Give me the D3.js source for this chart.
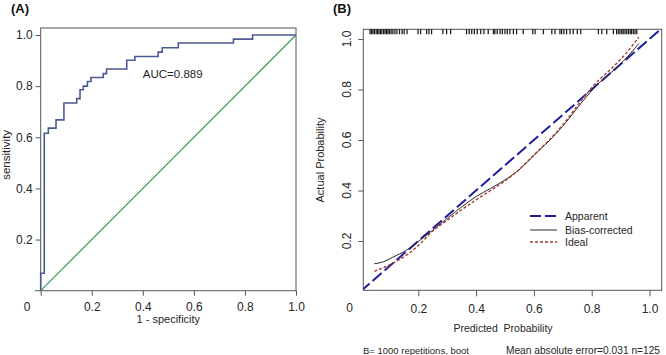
<!DOCTYPE html>
<html>
<head>
<meta charset="utf-8">
<script src="https://cdn.jsdelivr.net/npm/d3@7"></script>
<style>
  html, body { margin: 0; padding: 0; background: #fff; }
  svg { display: block; font-family: "Liberation Sans", Arial, sans-serif; }
</style>
</head>
<body>
<svg id="chart" width="666" height="355"></svg>
<script>
// ---------- DATA ----------
// Panel A: ROC curve (1-specificity, sensitivity) step points
const rocFpr  = [0, 0, 0.014, 0.014, 0.030, 0.030, 0.060, 0.060, 0.091, 0.091, 0.141, 0.141, 0.154, 0.154, 0.167, 0.167, 0.183, 0.183, 0.197, 0.197, 0.245, 0.245, 0.258, 0.258, 0.337, 0.337, 0.369, 0.369, 0.460, 0.460, 0.476, 0.476, 0.539, 0.539, 0.755, 0.755, 0.830, 0.830, 1.0];
const rocSens = [0, 0.068, 0.068, 0.616, 0.616, 0.636, 0.636, 0.668, 0.668, 0.734, 0.734, 0.751, 0.751, 0.786, 0.786, 0.800, 0.800, 0.818, 0.818, 0.834, 0.834, 0.849, 0.849, 0.867, 0.867, 0.901, 0.901, 0.916, 0.916, 0.933, 0.933, 0.950, 0.950, 0.969, 0.969, 0.984, 0.984, 1.0, 1.0];
const aucLabel = "AUC=0.889";
const ticksA = [0, 0.2, 0.4, 0.6, 0.8, 1.0];

// Panel B: calibration curves
const diagX = [0, 1.05];           // "Apparent" straight long-dashed line
const diagY = [0, 1.05];
const biasX = [0.048, 0.08, 0.11, 0.16, 0.20, 0.25, 0.30, 0.35, 0.40, 0.45, 0.50, 0.54, 0.575, 0.61, 0.656, 0.70, 0.77, 0.82, 0.87, 0.92, 0.963];
const biasY = [0.110, 0.118, 0.135, 0.164, 0.198, 0.243, 0.290, 0.335, 0.376, 0.408, 0.442, 0.474, 0.510, 0.550, 0.600, 0.655, 0.755, 0.820, 0.870, 0.925, 0.982];
const idealX = [0.048, 0.08, 0.10, 0.16, 0.20, 0.25, 0.30, 0.35, 0.40, 0.45, 0.50, 0.54, 0.575, 0.61, 0.656, 0.70, 0.77, 0.82, 0.87, 0.92, 0.963];
const idealY = [0.080, 0.095, 0.105, 0.145, 0.182, 0.240, 0.282, 0.324, 0.363, 0.400, 0.438, 0.474, 0.512, 0.552, 0.603, 0.660, 0.765, 0.832, 0.885, 0.945, 1.007];
const rugP = [0.033, 0.038, 0.043, 0.048, 0.054, 0.059, 0.064, 0.069, 0.074, 0.080, 0.085, 0.090, 0.095, 0.100, 0.106,
  0.112, 0.119, 0.126, 0.135, 0.144, 0.151, 0.161, 0.199, 0.208, 0.229, 0.237, 0.246, 0.285, 0.298, 0.312,
  0.367, 0.376, 0.385, 0.394, 0.404, 0.416, 0.427, 0.442, 0.460, 0.465, 0.473, 0.483, 0.491, 0.500, 0.508,
  0.517, 0.529, 0.540, 0.563, 0.596, 0.604, 0.633, 0.662, 0.673, 0.690, 0.696, 0.704, 0.713, 0.725, 0.736,
  0.750, 0.762, 0.823, 0.835, 0.852, 0.875, 0.886, 0.892, 0.898, 0.904, 0.909, 0.915, 0.921, 0.927, 0.933,
  0.938, 0.944, 0.950, 0.956];
const ticksB = [0.2, 0.4, 0.6, 0.8, 1.0];
const legendLabels = ["Apparent", "Bias-corrected", "Ideal"];
const footLeft = "B= 1000 repetitions, boot";
const footRight = "Mean absolute error=0.031 n=125";

// ---------- DRAW ----------
const svg = d3.select("#chart");
const txt = "#262626";
const axisCol = "#555";
const fmt = d3.format(".1f");

// ===== Panel A =====
const xA = d3.scaleLinear().domain([0, 1]).range([40.7, 296]);
const yA = d3.scaleLinear().domain([0, 1]).range([290.7, 35]);
const gA = svg.append("g");

gA.append("rect").attr("x", xA(0)).attr("y", 28).attr("width", xA(1) - xA(0)).attr("height", yA(0) - 28)
  .attr("fill", "none").attr("stroke", axisCol).attr("stroke-width", 1);
gA.append("line").attr("x1", 35).attr("x2", xA(0)).attr("y1", yA(0)).attr("y2", yA(0)).attr("stroke", axisCol);

const axA_b = gA.append("g").attr("transform", `translate(0,${yA(0)})`)
  .call(d3.axisBottom(xA).tickValues(ticksA).tickSize(5).tickPadding(7).tickFormat(d => d === 0 ? "" : fmt(d)));
const axA_l = gA.append("g").attr("transform", `translate(${xA(0)},0)`)
  .call(d3.axisLeft(yA).tickValues(ticksA.slice(1)).tickSize(5).tickPadding(3).tickFormat(fmt));
[axA_b, axA_l].forEach(a => {
  a.select(".domain").remove();
  a.selectAll("line").attr("stroke", axisCol);
  a.selectAll("text").attr("fill", txt).style("font-size", "12px").style("font-family", "Liberation Sans, Arial, sans-serif");
});
gA.append("text").attr("x", 27).attr("y", 311).attr("text-anchor", "middle").attr("fill", txt)
  .style("font-size", "12px").text("0");

gA.append("line").attr("x1", xA(0)).attr("y1", yA(0)).attr("x2", xA(1)).attr("y2", yA(1))
  .attr("stroke", "#3d9b4f").attr("stroke-width", 1.2);
const rocLine = d3.line().x((d, i) => xA(rocFpr[i])).y((d, i) => yA(rocSens[i]));
gA.append("path").attr("d", rocLine(rocFpr)).attr("fill", "none")
  .attr("stroke", "#4c5a93").attr("stroke-width", 1.6);

gA.append("text").attr("x", xA(0.4)).attr("y", 78).attr("fill", txt).style("font-size", "11.5px").text(aucLabel);
gA.append("text").attr("x", xA(0.5)).attr("y", 323).attr("text-anchor", "middle").attr("fill", txt)
  .style("font-size", "11px").text("1 - specificity");
gA.append("text").attr("transform", `translate(10,${yA(0.5) - 8}) rotate(-90)`).attr("text-anchor", "middle")
  .attr("fill", txt).style("font-size", "11.5px").text("sensitivity");
gA.append("text").attr("x", 11).attr("y", 13).attr("fill", "#111").style("font-size", "13px")
  .style("font-weight", "bold").text("(A)");

// ===== Panel B =====
const xB = d3.scaleLinear().domain([0, 1]).range([360.5, 649.5]);
const yB = d3.scaleLinear().domain([0, 1]).range([291.5, 39]);
const gB = svg.append("g");
const fx0 = 363.3, fx1 = 661.7, fy0 = 29.3, fy1 = 290.3;

gB.append("defs").append("clipPath").attr("id", "clipB").append("rect")
  .attr("x", fx0).attr("y", fy0).attr("width", fx1 - fx0).attr("height", fy1 - fy0);
gB.append("rect").attr("x", fx0).attr("y", fy0).attr("width", fx1 - fx0).attr("height", fy1 - fy0)
  .attr("fill", "none").attr("stroke", axisCol).attr("stroke-width", 1);

const axB_b = gB.append("g").attr("transform", `translate(0,${fy1})`)
  .call(d3.axisBottom(xB).tickValues(ticksB).tickSize(6).tickPadding(8).tickFormat(fmt));
axB_b.select(".domain").remove();
axB_b.selectAll("line").attr("stroke", axisCol);
axB_b.selectAll("text").attr("fill", txt).style("font-size", "12px");
gB.append("text").attr("x", 349.7).attr("y", 312).attr("text-anchor", "middle").attr("fill", txt)
  .style("font-size", "12px").text("0");

const axB_l = gB.append("g").attr("transform", `translate(${fx0},0)`)
  .call(d3.axisLeft(yB).tickValues(ticksB).tickSize(5).tickFormat(""));
axB_l.select(".domain").remove();
axB_l.selectAll("line").attr("stroke", axisCol);
gB.selectAll("text.ylab").data(ticksB).join("text").attr("class", "ylab")
  .attr("transform", d => `translate(351,${yB(d)}) rotate(-90)`)
  .attr("text-anchor", "middle").attr("fill", txt).style("font-size", "12px").text(fmt);

gB.selectAll("line.rug").data(rugP).join("line").attr("class", "rug")
  .attr("x1", d => xB(d)).attr("x2", d => xB(d)).attr("y1", fy0).attr("y2", fy0 + 5)
  .attr("stroke", "#111").attr("stroke-width", 1.2);

const plotB = gB.append("g").attr("clip-path", "url(#clipB)");
const mkLine = (xs, ys) => d3.line().curve(d3.curveMonotoneX).x((d, i) => xB(xs[i])).y((d, i) => yB(ys[i]))(xs);
plotB.append("path").attr("d", mkLine(diagX, diagY)).attr("fill", "none")
  .attr("stroke", "#1f1f9e").attr("stroke-width", 2).attr("stroke-dasharray", "12,4");
plotB.append("path").attr("d", mkLine(biasX, biasY)).attr("fill", "none")
  .attr("stroke", "#2a2a2a").attr("stroke-width", 1);
plotB.append("path").attr("d", mkLine(idealX, idealY)).attr("fill", "none")
  .attr("stroke", "#a83a2e").attr("stroke-width", 1.4).attr("stroke-dasharray", "3,2");

const legY = [216, 230, 242];
const legStyles = [
  { c: "#1f1f9e", w: 2, d: "11,4" },
  { c: "#2a2a2a", w: 1, d: null },
  { c: "#a83a2e", w: 1.4, d: "3,2" }
];
legendLabels.forEach((lab, i) => {
  gB.append("line").attr("x1", 530).attr("x2", 557).attr("y1", legY[i]).attr("y2", legY[i])
    .attr("stroke", legStyles[i].c).attr("stroke-width", legStyles[i].w)
    .attr("stroke-dasharray", legStyles[i].d);
  gB.append("text").attr("x", 565).attr("y", legY[i]).attr("dy", "0.35em").attr("fill", txt)
    .style("font-size", "10.5px").text(lab);
});

gB.append("text").attr("x", 503).attr("y", 332).attr("text-anchor", "middle").attr("fill", txt)
  .style("font-size", "10.5px").text("Predicted\u00a0\u00a0Probability");
gB.append("text").attr("transform", `translate(324,160) rotate(-90)`).attr("text-anchor", "middle")
  .attr("fill", txt).style("font-size", "11px").text("Actual Probability");
gB.append("text").attr("x", 363).attr("y", 354).attr("fill", txt).style("font-size", "9.5px").text(footLeft);
gB.append("text").attr("x", 660).attr("y", 354).attr("text-anchor", "end").attr("fill", txt)
  .style("font-size", "10.2px").text(footRight);
gB.append("text").attr("x", 333).attr("y", 13).attr("fill", "#111").style("font-size", "13px")
  .style("font-weight", "bold").text("(B)");
</script>
</body>
</html>
